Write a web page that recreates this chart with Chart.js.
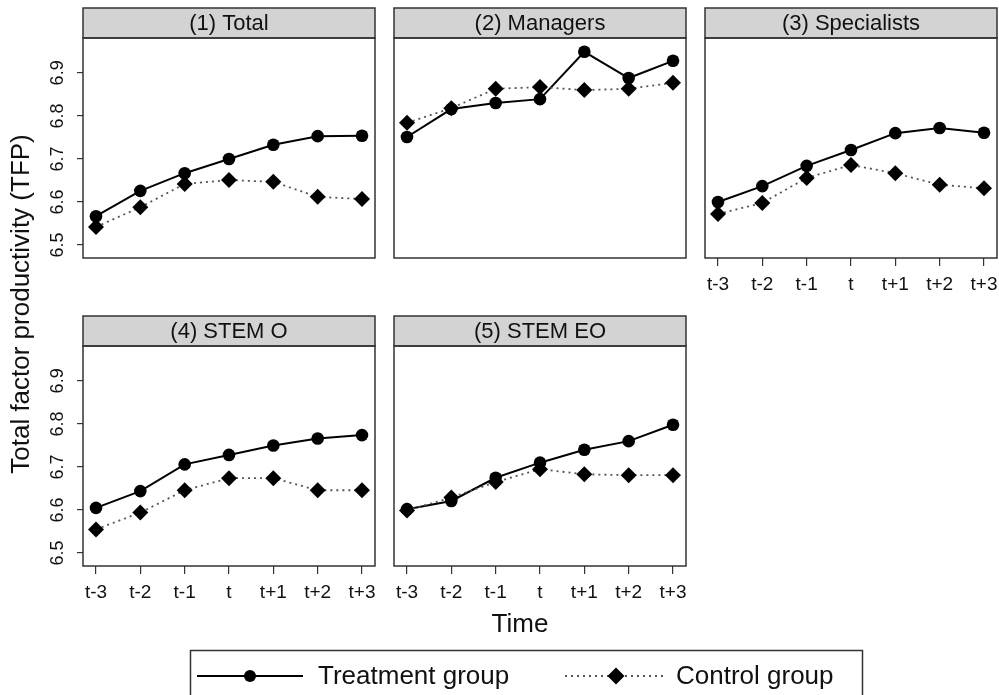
<!DOCTYPE html>
<html>
<head>
<meta charset="utf-8">
<script src="https://cdn.jsdelivr.net/npm/chart.js@4/dist/chart.umd.min.js"></script>
<style>
  html, body { margin: 0; padding: 0; background: #fff; overflow: hidden; }
  #page { position: relative; width: 999px; height: 695px; }
  canvas { position: absolute; }
</style>
</head>
<body>
<div id="page">
  <canvas id="overlay" width="999" height="695" style="left:0;top:0"></canvas>
</div>
<script>
const timeLabels = ['t-3', 't-2', 't-1', 't', 't+1', 't+2', 't+3'];
const yTicks = [6.5, 6.6, 6.7, 6.8, 6.9];
const seriesNames = ['Treatment group', 'Control group'];
const panelTitles = ['(1) Total', '(2) Managers', '(3) Specialists', '(4) STEM O', '(5) STEM EO'];

// values, t-3 ... t+3
const totalTreat = [6.567, 6.626, 6.667, 6.700, 6.733, 6.753, 6.754];
const totalCtrl = [6.542, 6.588, 6.642, 6.651, 6.647, 6.612, 6.607];
const managersTreat = [6.751, 6.816, 6.830, 6.839, 6.949, 6.888, 6.928];
const managersCtrl = [6.784, 6.818, 6.863, 6.867, 6.860, 6.863, 6.877];
const specialistsTreat = [6.600, 6.637, 6.684, 6.721, 6.760, 6.772, 6.761];
const specialistsCtrl = [6.572, 6.598, 6.656, 6.686, 6.667, 6.640, 6.632];
const stemOTreat = [6.605, 6.644, 6.706, 6.728, 6.750, 6.766, 6.774];
const stemOCtrl = [6.555, 6.594, 6.646, 6.674, 6.674, 6.646, 6.646];
const stemEOTreat = [6.602, 6.621, 6.675, 6.710, 6.740, 6.760, 6.798];
const stemEOCtrl = [6.599, 6.629, 6.665, 6.695, 6.683, 6.681, 6.681];

const FONT = "'Liberation Sans', Arial, sans-serif";
const FRAME = '#333333';
const STRIP = '#d3d3d3';
const DOTS = '#555555';

const panels = [
  { title: panelTitles[0], treat: totalTreat, ctrl: totalCtrl, left: 83, top: 38, showY: true, showX: false },
  { title: panelTitles[1], treat: managersTreat, ctrl: managersCtrl, left: 394, top: 38, showY: false, showX: false },
  { title: panelTitles[2], treat: specialistsTreat, ctrl: specialistsCtrl, left: 705, top: 38, showY: false, showX: true },
  { title: panelTitles[3], treat: stemOTreat, ctrl: stemOCtrl, left: 83, top: 346, showY: true, showX: true },
  { title: panelTitles[4], treat: stemEOTreat, ctrl: stemEOCtrl, left: 394, top: 346, showY: false, showX: true }
];
const plotW = 292, plotH = 220;

// grey strip with the panel title and the box round the plot
const stripPlugin = {
  id: 'strip',
  beforeDatasetsDraw(chart, args, opts) {
    const a = chart.chartArea, ctx = chart.ctx;
    ctx.save();
    ctx.fillStyle = STRIP;
    ctx.fillRect(a.left, a.top - 30, a.right - a.left, 30);
    ctx.lineWidth = 1.5;
    ctx.strokeStyle = FRAME;
    ctx.strokeRect(a.left, a.top - 30, a.right - a.left, 30);
    ctx.strokeRect(a.left, a.top, a.right - a.left, a.bottom - a.top);
    ctx.fillStyle = '#111';
    ctx.font = '22px ' + FONT;
    ctx.textAlign = 'center';
    ctx.textBaseline = 'middle';
    ctx.fillText(opts.title, (a.left + a.right) / 2, a.top - 14);
    ctx.restore();
  }
};

const toPoints = vals => vals.map((v, i) => ({ x: i, y: v }));

panels.forEach(p => {
  const leftSpace = p.showY ? 83 : 3;
  const rightSpace = 3;
  const topSpace = 33;
  const bottomSpace = p.showX ? 44 : 3;
  const cv = document.createElement('canvas');
  cv.width = leftSpace + plotW + rightSpace;
  cv.height = topSpace + plotH + bottomSpace;
  cv.style.left = (p.left - leftSpace) + 'px';
  cv.style.top = (p.top - topSpace) + 'px';
  document.getElementById('page').appendChild(cv);

  new Chart(cv.getContext('2d'), {
    type: 'line',
    data: {
      datasets: [
        {
          label: seriesNames[1],
          data: toPoints(p.ctrl),
          borderColor: DOTS,
          borderWidth: 1.8,
          borderDash: [2, 4],
          pointStyle: 'rectRot',
          pointRadius: 8,
          pointBackgroundColor: '#000',
          pointBorderColor: '#000',
          pointBorderWidth: 0,
          tension: 0
        },
        {
          label: seriesNames[0],
          data: toPoints(p.treat),
          borderColor: '#000',
          borderWidth: 2,
          pointStyle: 'circle',
          pointRadius: 6.3,
          pointBackgroundColor: '#000',
          pointBorderColor: '#000',
          pointBorderWidth: 0,
          tension: 0
        }
      ]
    },
    options: {
      responsive: false,
      animation: false,
      events: [],
      layout: {
        autoPadding: false,
        padding: {
          left: p.showY ? 0 : leftSpace,
          right: rightSpace,
          top: topSpace,
          bottom: p.showX ? 0 : bottomSpace
        }
      },
      scales: {
        x: {
          type: 'linear',
          display: p.showX,
          min: -0.293,
          max: 6.293,
          afterBuildTicks: s => { s.ticks = timeLabels.map((_, i) => ({ value: i })); },
          afterFit: s => { s.height = p.showX ? 44 : 0; s.paddingLeft = 0; s.paddingRight = 0; },
          border: { display: false },
          grid: { drawOnChartArea: false, drawTicks: true, tickLength: 8, color: FRAME, lineWidth: 1.2 },
          ticks: {
            autoSkip: false,
            maxRotation: 0,
            padding: 7,
            color: '#111',
            font: { family: FONT, size: 19 },
            callback: v => timeLabels[v]
          }
        },
        y: {
          display: p.showY,
          min: 6.47,
          max: 6.981,
          afterBuildTicks: s => { s.ticks = yTicks.map(v => ({ value: v })); },
          afterFit: s => { s.width = p.showY ? 83 : 0; s.paddingTop = 0; s.paddingBottom = 0; },
          border: { display: false },
          grid: { drawOnChartArea: false, drawTicks: true, tickLength: 6, color: FRAME, lineWidth: 1.2 },
          ticks: {
            minRotation: 90,
            maxRotation: 90,
            crossAlign: 'center',
            padding: 6,
            color: '#111',
            font: { family: FONT, size: 18 },
            callback: v => v.toFixed(1)
          }
        }
      },
      plugins: {
        legend: { display: false },
        tooltip: { enabled: false },
        strip: { title: p.title }
      }
    },
    plugins: [stripPlugin]
  });
});

// figure-wide texts and the legend box
const oc = document.getElementById('overlay').getContext('2d');
oc.fillStyle = '#111';
oc.font = '26px ' + FONT;
oc.textAlign = 'center';
oc.textBaseline = 'middle';
oc.save();
oc.translate(22, 304);
oc.rotate(-Math.PI / 2);
oc.fillText('Total factor productivity (TFP)', 0, 0);
oc.restore();
oc.fillText('Time', 520, 625);

oc.lineWidth = 1.5;
oc.strokeStyle = FRAME;
oc.strokeRect(190.5, 650.5, 672, 80);

const legY = 676;
// treatment key
oc.strokeStyle = '#000';
oc.lineWidth = 2;
oc.beginPath(); oc.moveTo(197, legY); oc.lineTo(303, legY); oc.stroke();
oc.fillStyle = '#000';
oc.beginPath(); oc.arc(250, legY, 6, 0, Math.PI * 2); oc.fill();
// control key
oc.strokeStyle = DOTS;
oc.lineWidth = 1.8;
oc.setLineDash([2, 4]);
oc.beginPath(); oc.moveTo(565, legY); oc.lineTo(667, legY); oc.stroke();
oc.setLineDash([]);
oc.beginPath();
oc.moveTo(616, legY - 8.5); oc.lineTo(624.5, legY); oc.lineTo(616, legY + 8.5); oc.lineTo(607.5, legY);
oc.closePath(); oc.fill();

oc.fillStyle = '#111';
oc.font = '26px ' + FONT;
oc.textAlign = 'left';
oc.textBaseline = 'alphabetic';
oc.fillText(seriesNames[0], 318, 684);
oc.fillText(seriesNames[1], 676, 684);
</script>
</body>
</html>
